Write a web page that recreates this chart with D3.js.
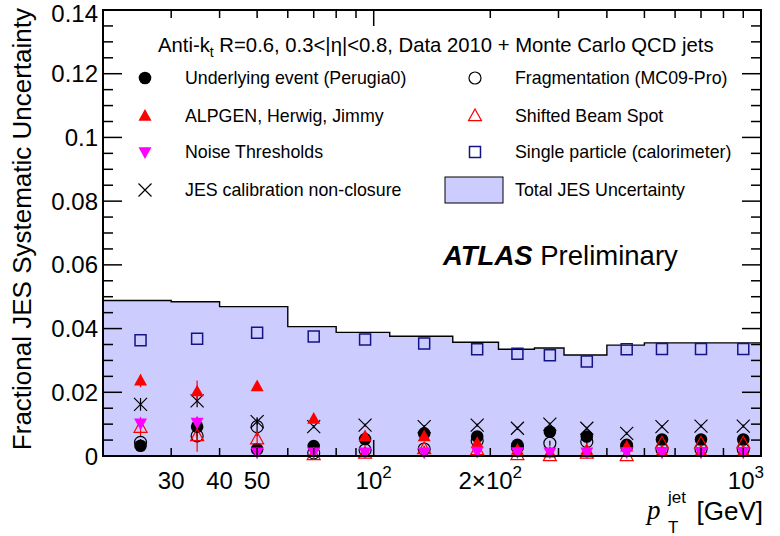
<!DOCTYPE html>
<html>
<head>
<meta charset="utf-8">
<script src="https://cdn.jsdelivr.net/npm/d3@7"></script>
<style>
  html, body { margin: 0; padding: 0; background: #fff; }
  svg { display: block; font-family: "Liberation Sans", Arial, Helvetica, sans-serif; }
</style>
</head>
<body>
<svg id="chart" width="780" height="536"></svg>
<script>
// ---------------- data ----------------
const binEdges = [20, 30, 40, 60, 80, 110, 160, 210, 260, 310, 400, 500, 600, 800, 1000];
const totalJES = [0.0488, 0.0484, 0.0469, 0.0406, 0.0388, 0.0376, 0.0357, 0.0335, 0.0339, 0.0317, 0.0348, 0.0355, 0.0355, 0.0355];
const ptCenters = [25, 35, 50, 70, 95, 135, 185, 235, 285, 355, 450, 555, 700, 900];

const singleParticle = [0.0363, 0.0368, 0.0387, 0.0375, 0.0366, 0.0353, 0.0335, 0.0321, 0.0316, 0.0297, 0.0335, 0.0336, 0.0336, 0.0336];
const underlyingEvent = [0.0032, 0.0092, 0.0021, 0.0031, 0.0053, 0.0071, 0.0061, 0.0035, 0.0076, 0.0061, 0.0035, 0.0052, 0.0052, 0.0052];
const ueErr = [0.0010, 0.0030, 0.0010, 0.0010, 0.0008, 0.0008, 0.0008, 0.0008, 0.0008, 0.0008, 0.0008, 0.0008, 0.0008, 0.0008];
const fragmentation = [0.0043, 0.0063, 0.0092, 0.0010, 0.0019, 0.0022, 0.0048, 0.0028, 0.0040, 0.0045, 0.0030, 0.0021, 0.0021, 0.0021];
const fragErr = [0.0010, 0.0015, 0.0030, 0.0008, 0.0008, 0.0008, 0.0008, 0.0008, 0.0008, 0.0008, 0.0008, 0.0008, 0.0008, 0.0008];
const alpgen = [0.0236, 0.0202, 0.0218, 0.0116, 0.0061, 0.0061, 0.0040, 0.0019, 0.0010, 0.0019, 0.0029, 0.0015, 0.0015, 0.0015];
const alpgenErr = [0.0020, 0.0035, 0.0008, 0.0010, 0.0010, 0.0010, 0.0010, 0.0010, 0.0010, 0.0010, 0.0010, 0.0010, 0.0010, 0.0010];
const beamSpot = [0.0089, 0.0063, 0.0053, 0.0003, 0.0008, 0.0022, 0.0019, 0.0003, 0.0000, 0.0008, 0.0000, 0.0040, 0.0040, 0.0040];
const beamSpotErr = [0.0030, 0.0050, 0.0023, 0.0010, 0.0010, 0.0010, 0.0010, 0.0008, 0.0008, 0.0008, 0.0008, 0.0030, 0.0030, 0.0030];
const noiseThr = [0.0103, 0.0105, 0.0012, 0.0012, 0.0012, 0.0012, 0.0014, 0.0013, 0.0012, 0.0012, 0.0013, 0.0012, 0.0012, 0.0012];
const noiseErr = [0.0020, 0.0020, 0.0008, 0.0006, 0.0006, 0.0006, 0.0006, 0.0006, 0.0006, 0.0006, 0.0006, 0.0006, 0.0006, 0.0006];
const nonClosure = [0.0162, 0.0173, 0.0108, 0.0092, 0.0097, 0.0092, 0.0097, 0.0087, 0.0100, 0.0087, 0.0071, 0.0092, 0.0094, 0.0094];
const nonClosureErr = [0.0020, 0.0020, 0.0010, 0.0005, 0.0005, 0.0005, 0.0005, 0.0005, 0.0005, 0.0005, 0.0005, 0.0005, 0.0005, 0.0005];

const yTickValues = [0, 0.02, 0.04, 0.06, 0.08, 0.1, 0.12, 0.14];
const yTickLabels = ["0", "0.02", "0.04", "0.06", "0.08", "0.1", "0.12", "0.14"];
const xLabelValues = [30, 40, 50, 100, 200, 1000];

const headerText = ["Anti-k", "t", " R=0.6, 0.3<|η|<0.8, Data 2010 + Monte Carlo QCD jets"];
const legendLeft = ["Underlying event (Perugia0)", "ALPGEN, Herwig, Jimmy", "Noise Thresholds", "JES calibration non-closure"];
const legendRight = ["Fragmentation (MC09-Pro)", "Shifted Beam Spot", "Single particle (calorimeter)", "Total JES Uncertainty"];

// ---------------- layout ----------------
const L = 103, R = 761, T = 10, B = 456;
const svg = d3.select("#chart");
const x = d3.scaleLog().domain([20, 1000]).range([L, R]);
const y = d3.scaleLinear().domain([0, 0.14]).range([B, T]);

const RED = "#ff0000", MAG = "#ff00ff", NAVY = "#141488", BAND = "#ccccff";

// ---------------- band ----------------
const bandData = totalJES.map((v, i) => ({x0: binEdges[i], x1: binEdges[i + 1], v}));
let areaPts = [];
bandData.forEach(d => { areaPts.push([d.x0, d.v]); areaPts.push([d.x1, d.v]); });
const area = d3.area().x(d => x(d[0])).y0(y(0)).y1(d => y(d[1]));
svg.append("path").attr("d", area(areaPts)).attr("fill", BAND).attr("stroke", "none");
const line = d3.line().x(d => x(d[0])).y(d => y(d[1]));
svg.append("path").attr("d", line(areaPts)).attr("fill", "none").attr("stroke", "#000").attr("stroke-width", 1.4);

// ---------------- marker shapes ----------------
function triUp(s) { const h = s * 0.9; return `M0,${-h*0.6}L${s/2},${h*0.4}L${-s/2},${h*0.4}Z`; }
function triDown(s) { const h = s * 0.9; return `M0,${h*0.6}L${s/2},${-h*0.4}L${-s/2},${-h*0.4}Z`; }
function cross(s) { const a = s / 2; return `M${-a},${-a}L${a},${a}M${-a},${a}L${a},${-a}`; }
function sq(s) { const a = s / 2; return `M${-a},${-a}H${a}V${a}H${-a}Z`; }

function drawMarker(g, type, cx, cy) {
  switch (type) {
    case "ue": g.append("circle").attr("cx", cx).attr("cy", cy).attr("r", 6.3).attr("fill", "#000"); break;
    case "frag": g.append("circle").attr("cx", cx).attr("cy", cy).attr("r", 6.0).attr("fill", "none").attr("stroke", "#000").attr("stroke-width", 1.2); break;
    case "alp": g.append("path").attr("transform", `translate(${cx},${cy})`).attr("d", triUp(13)).attr("fill", RED); break;
    case "beam": g.append("path").attr("transform", `translate(${cx},${cy})`).attr("d", triUp(13)).attr("fill", "none").attr("stroke", RED).attr("stroke-width", 1.2); break;
    case "noise": g.append("path").attr("transform", `translate(${cx},${cy})`).attr("d", triDown(13)).attr("fill", MAG); break;
    case "clos": g.append("path").attr("transform", `translate(${cx},${cy})`).attr("d", cross(13)).attr("fill", "none").attr("stroke", "#000").attr("stroke-width", 1.2); break;
    case "sp": g.append("path").attr("transform", `translate(${cx},${cy})`).attr("d", sq(11)).attr("fill", "none").attr("stroke", NAVY).attr("stroke-width", 1.5); break;
  }
}

const series = [
  {type: "sp", vals: singleParticle, err: null, color: NAVY},
  {type: "ue", vals: underlyingEvent, err: ueErr, color: "#000"},
  {type: "frag", vals: fragmentation, err: fragErr, color: "#000"},
  {type: "clos", vals: nonClosure, err: nonClosureErr, color: "#000"},
  {type: "alp", vals: alpgen, err: alpgenErr, color: RED},
  {type: "beam", vals: beamSpot, err: beamSpotErr, color: RED},
  {type: "noise", vals: noiseThr, err: noiseErr, color: MAG}
];

const gPts = svg.append("g");
series.forEach(s => {
  if (!s.err) return;
  s.vals.forEach((v, i) => {
    gPts.append("line").attr("x1", x(ptCenters[i])).attr("x2", x(ptCenters[i]))
      .attr("y1", y(Math.max(0, v - s.err[i]))).attr("y2", y(v + s.err[i]))
      .attr("stroke", s.color).attr("stroke-width", 1.2);
  });
});
series.forEach(s => {
  s.vals.forEach((v, i) => drawMarker(gPts, s.type, x(ptCenters[i]), y(v)));
});

// ---------------- axes ----------------
const frame = svg.append("g");
frame.append("rect").attr("x", L).attr("y", T).attr("width", R - L).attr("height", B - T)
  .attr("fill", "none").attr("stroke", "#000").attr("stroke-width", 2);

const yMinor = d3.range(0, 0.1401, 0.005);
yMinor.forEach(v => {
  const isMajor = Math.abs(Math.round(v / 0.02) * 0.02 - v) < 1e-6;
  const len = isMajor ? 19 : 10;
  frame.append("line").attr("x1", L).attr("x2", L + len).attr("y1", y(v)).attr("y2", y(v)).attr("stroke", "#000").attr("stroke-width", 1.5);
  frame.append("line").attr("x1", R).attr("x2", R - len).attr("y1", y(v)).attr("y2", y(v)).attr("stroke", "#000").attr("stroke-width", 1.5);
});
yTickValues.forEach((v, i) => {
  frame.append("text").attr("x", L - 5).attr("y", Math.max(y(v), 13)).attr("dy", "0.36em")
    .attr("text-anchor", "end").attr("font-size", 24).text(yTickLabels[i]);
});

const xTicks = [];
[10, 100].forEach(dec => { for (let k = 1; k <= 9; k++) { const v = k * dec; if (v > 20 && v < 1000) xTicks.push(v); } });
xTicks.forEach(v => {
  const isMajor = (v === 100);
  const len = isMajor ? 16 : 8;
  frame.append("line").attr("x1", x(v)).attr("x2", x(v)).attr("y1", B).attr("y2", B - len).attr("stroke", "#000").attr("stroke-width", 1.5);
  frame.append("line").attr("x1", x(v)).attr("x2", x(v)).attr("y1", T).attr("y2", T + len).attr("stroke", "#000").attr("stroke-width", 1.5);
});
const labY = 489;
xLabelValues.forEach(v => {
  const t = frame.append("text").attr("x", x(v)).attr("y", labY).attr("text-anchor", "middle").attr("font-size", 24);
  if (v < 100) t.text(String(v));
  else {
    const e = Math.round(Math.log10(v));
    const m = Math.round(v / Math.pow(10, e));
    if (m > 1) t.append("tspan").text(m + "×10");
    else t.append("tspan").text("10");
    t.append("tspan").attr("dy", -11).attr("font-size", 17).text(String(e));
    if (v === 1000) t.attr("text-anchor", "end").attr("x", x(v) + 3);
  }
});

// x axis title (separate pieces)
svg.append("text").attr("x", 647).attr("y", 519).attr("font-size", 27)
  .attr("font-family", "'Liberation Serif', 'Times New Roman', serif").attr("font-style", "italic").text("p");
svg.append("text").attr("x", 668).attr("y", 503).attr("font-size", 17).text("jet");
svg.append("text").attr("x", 668).attr("y", 533).attr("font-size", 17).text("T");
svg.append("text").attr("x", 763).attr("y", 520).attr("text-anchor", "end").attr("font-size", 26).text("[GeV]");

// y axis title
svg.append("text").attr("transform", `translate(31, 8) rotate(-90)`).attr("text-anchor", "end")
  .attr("font-size", 26).text("Fractional JES Systematic Uncertainty");

// ---------------- header & legend ----------------
const hdr = svg.append("text").attr("x", 158).attr("y", 52).attr("font-size", 20.3);
hdr.append("tspan").text(headerText[0]);
hdr.append("tspan").attr("dy", 5).attr("font-size", 14).text(headerText[1]);
hdr.append("tspan").attr("dy", -5).text(headerText[2]);

const rowY = [78, 116, 152, 190];
const leftTypes = ["ue", "alp", "noise", "clos"];
const rightTypes = ["frag", "beam", "sp", "band"];
const gLeg = svg.append("g");
legendLeft.forEach((txt, i) => {
  drawMarker(gLeg, leftTypes[i], 145, rowY[i]);
  gLeg.append("text").attr("x", 185).attr("y", rowY[i]).attr("dy", "0.36em").attr("font-size", 17.8).text(txt);
});
legendRight.forEach((txt, i) => {
  if (rightTypes[i] === "band") {
    gLeg.append("rect").attr("x", 445).attr("y", rowY[i] - 13).attr("width", 58).attr("height", 26)
      .attr("fill", BAND).attr("stroke", "#000").attr("stroke-width", 1);
  } else {
    drawMarker(gLeg, rightTypes[i], 475, rowY[i]);
  }
  gLeg.append("text").attr("x", 515).attr("y", rowY[i]).attr("dy", "0.36em").attr("font-size", 17.8).text(txt);
});

// ATLAS Preliminary
const atl = svg.append("text").attr("x", 443).attr("y", 265).attr("font-size", 27.5);
atl.append("tspan").attr("font-weight", "bold").attr("font-style", "italic").text("ATLAS");
atl.append("tspan").text(" Preliminary");
</script>
</body>
</html>
